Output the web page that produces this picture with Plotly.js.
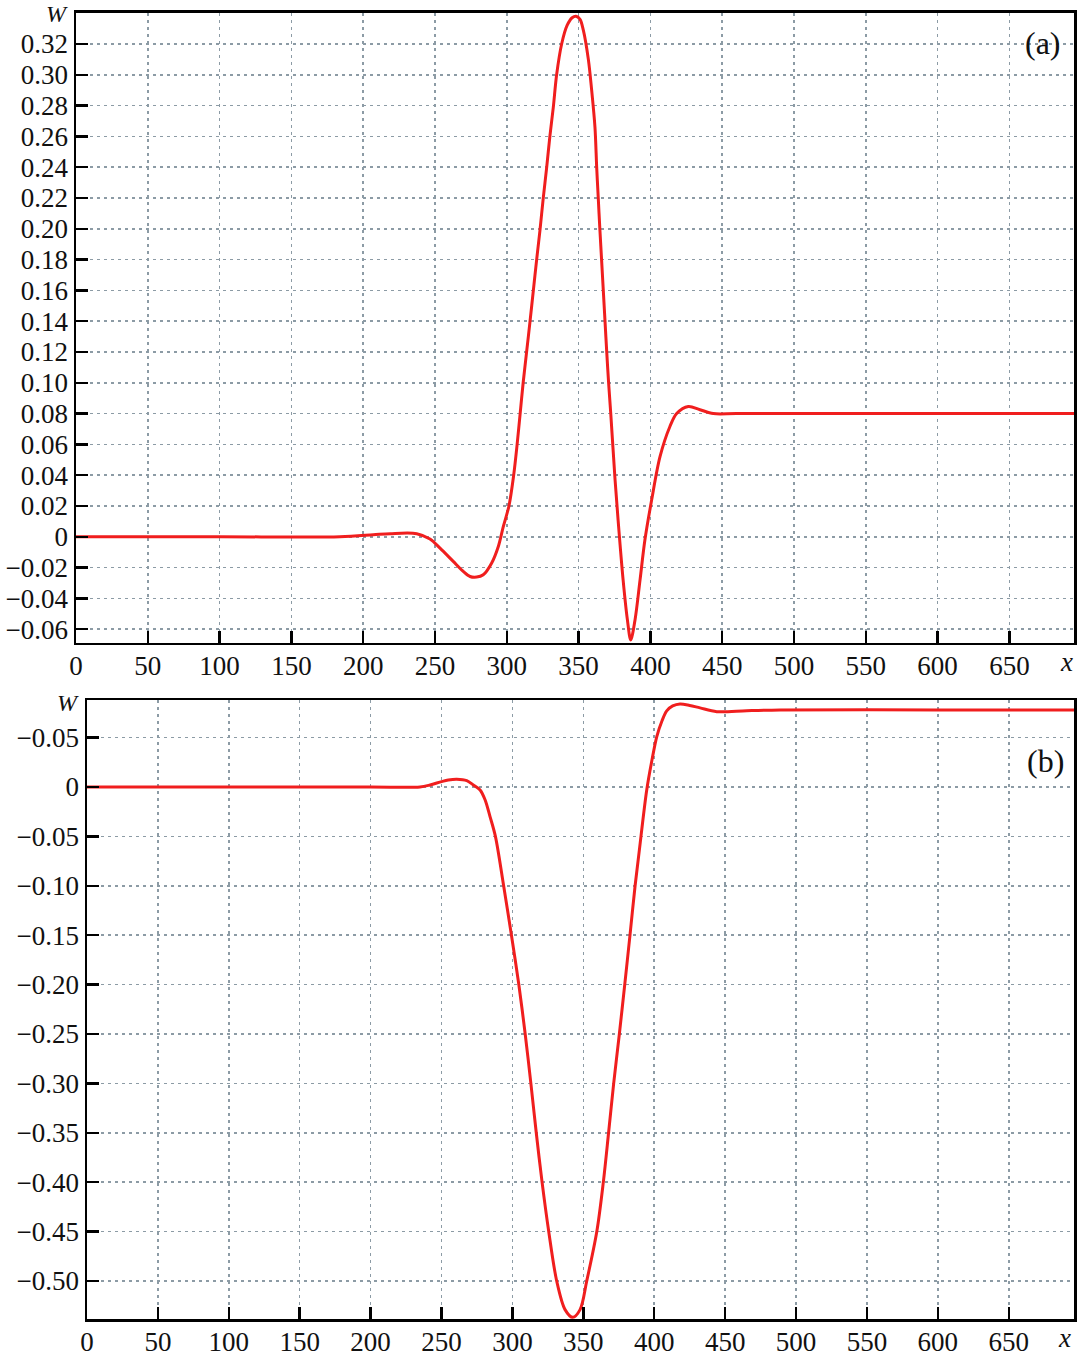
<!DOCTYPE html>
<html>
<head>
<meta charset="utf-8">
<script src="https://cdn.plot.ly/plotly-3.0.1.min.js"></script>
<style>html,body{margin:0;padding:0;background:#fff;}#chart{width:1085px;height:1357px;}</style>
</head>
<body>
<div id="chart"></div>
<script>
// Panel (a) data
var xA = [0, 100, 183.8, 207, 218.7, 237.3, 246.5, 253.5, 262.7, 269.7, 274.4, 279, 283.6, 289.5, 294.1, 297.6, 301.5, 304.8, 307.2, 309.3, 311.4, 313.8, 316.2, 318.5, 320.8, 323.1, 325.4, 327.8, 330, 332.4, 334.7, 338.2, 342, 345.5, 348.2, 351, 353.3, 356.8, 359.1, 361.4, 362.6, 363.7, 364.8, 366.0, 367.2, 368.4, 369.6, 370.9, 372.4, 375.4, 377.5, 381.0, 384, 386.3, 389.3, 392.8, 396.2, 400.9, 406.7, 413.6, 418.3, 426.4, 434.5, 443.8, 460, 550, 695];
var yA = [0, 0, 0, 0.0013, 0.002, 0.002, -0.0015, -0.0074, -0.016, -0.0225, -0.0258, -0.0262, -0.0247, -0.017, -0.0063, 0.0067, 0.02, 0.04, 0.06, 0.080, 0.10, 0.12, 0.14, 0.16, 0.18, 0.199, 0.22, 0.240, 0.26, 0.279, 0.30, 0.32, 0.332, 0.337, 0.338, 0.336, 0.329, 0.31, 0.29, 0.266, 0.24, 0.22, 0.20, 0.18, 0.16, 0.14, 0.12, 0.10, 0.080, 0.037, 0.011, -0.028, -0.054, -0.067, -0.054, -0.028, -0.002, 0.024, 0.052, 0.0716, 0.080, 0.0846, 0.0825, 0.080, 0.080, 0.080, 0.080];

// Panel (b) data
var xB = [0, 100, 200, 234.8, 241.9, 250.1, 254.8, 260.7, 267.8, 272.4, 277.2, 280.7, 284.2, 288.0, 293.8, 299.3, 304.5, 309.0, 313.0, 316.8, 320.9, 325.6, 331.2, 337.1, 342.5, 347.7, 352.4, 359.5, 364.1, 367.8, 371.4, 375.4, 379.2, 382.9, 386.5, 389.5, 394.7, 398.5, 401.8, 405.5, 408.8, 413, 418.2, 425, 432.3, 444.1, 465.2, 488.7, 600, 696];
var yB = [0, 0, 0, 0, 0.002, 0.0054, 0.007, 0.0078, 0.0064, 0.002, -0.003, -0.013, -0.030, -0.050, -0.10, -0.15, -0.20, -0.25, -0.30, -0.35, -0.40, -0.45, -0.50, -0.529, -0.5368, -0.529, -0.50, -0.45, -0.40, -0.35, -0.30, -0.25, -0.20, -0.15, -0.10, -0.064, -0.003, 0.028, 0.051, 0.067, 0.077, 0.082, 0.084, 0.0825, 0.080, 0.0762, 0.0772, 0.078, 0.078, 0.078];

// Tick values / labels
var xTickVals = [0, 50, 100, 150, 200, 250, 300, 350, 400, 450, 500, 550, 600, 650];
var xTickText = ['0', '50', '100', '150', '200', '250', '300', '350', '400', '450', '500', '550', '600', '650'];
var yTickValsA = [-0.06, -0.04, -0.02, 0, 0.02, 0.04, 0.06, 0.08, 0.10, 0.12, 0.14, 0.16, 0.18, 0.20, 0.22, 0.24, 0.26, 0.28, 0.30, 0.32, 0.34];
var yTickTextA = ['\u22120.06', '\u22120.04', '\u22120.02', '0', '0.02', '0.04', '0.06', '0.08', '0.10', '0.12', '0.14', '0.16', '0.18', '0.20', '0.22', '0.24', '0.26', '0.28', '0.30', '0.32', ''];
var yTickValsB = [0.05, 0, -0.05, -0.10, -0.15, -0.20, -0.25, -0.30, -0.35, -0.40, -0.45, -0.50];
var yTickTextB = ['\u22120.05', '0', '\u22120.05', '\u22120.10', '\u22120.15', '\u22120.20', '\u22120.25', '\u22120.30', '\u22120.35', '\u22120.40', '\u22120.45', '\u22120.50'];

var W = 1085, H = 1357;
var fam = 'Liberation Serif, Times New Roman, serif';
var font = {family: fam, size: 27, color: '#111'};
var gridColor = 'rgb(140,155,165)';
function ax(extra) {
  var base = {
    showline: true, linecolor: '#000', linewidth: 2.5, mirror: true,
    ticks: 'inside', ticklen: 12, tickwidth: 2.5, tickcolor: '#000',
    showgrid: true, gridcolor: gridColor, gridwidth: 1.5, griddash: '3px,4px',
    zeroline: false, tickmode: 'array', tickfont: font, fixedrange: true
  };
  for (var k in extra) base[k] = extra[k];
  return base;
}

var lineStyle = {color: 'rgb(240,30,30)', width: 3, shape: 'spline', smoothing: 0.9};
var traces = [
  {x: xA, y: yA, type: 'scatter', mode: 'lines', line: lineStyle, xaxis: 'x', yaxis: 'y', hoverinfo: 'skip'},
  {x: xB, y: yB, type: 'scatter', mode: 'lines', line: lineStyle, xaxis: 'x2', yaxis: 'y2', hoverinfo: 'skip'}
];

function ann(t, px, py, size) {
  return {text: t, xref: 'paper', yref: 'paper', x: px / W, y: 1 - py / H, xanchor: 'center', yanchor: 'middle',
          showarrow: false, font: {family: fam, size: size, color: '#111'}};
}

var layout = {
  width: W, height: H,
  margin: {l: 0, r: 0, t: 0, b: 0},
  paper_bgcolor: '#fff', plot_bgcolor: '#fff',
  showlegend: false,
  xaxis: ax({domain: [76 / W, 1074 / W], range: [0, 695], tickvals: xTickVals, ticktext: xTickText, anchor: 'y', ticklabelstandoff: -3}),
  yaxis: ax({domain: [1 - 642.7 / H, 1 - 12.7 / H], range: [-0.0688, 0.3403], tickvals: yTickValsA, ticktext: yTickTextA, anchor: 'x'}),
  xaxis2: ax({domain: [87 / W, 1074 / W], range: [0, 696], tickvals: xTickVals, ticktext: xTickText, anchor: 'y2', ticklabelstandoff: -3}),
  yaxis2: ax({domain: [1 - 1319.3 / H, 1 - 700 / H], range: [-0.5388, 0.088], tickvals: yTickValsB, ticktext: yTickTextB, anchor: 'x2'}),
  annotations: [
    ann('<i>W</i>', 57, 14, 24),
    ann('<i>x</i>', 1066, 662, 27),
    ann('(a)', 1043, 43, 32),
    ann('<i>W</i>', 68, 703, 24),
    ann('<i>x</i>', 1064, 1338, 27),
    ann('(b)', 1045, 761, 32)
  ]
};

Plotly.newPlot('chart', traces, layout, {staticPlot: true, displayModeBar: false});
</script>
</body>
</html>
